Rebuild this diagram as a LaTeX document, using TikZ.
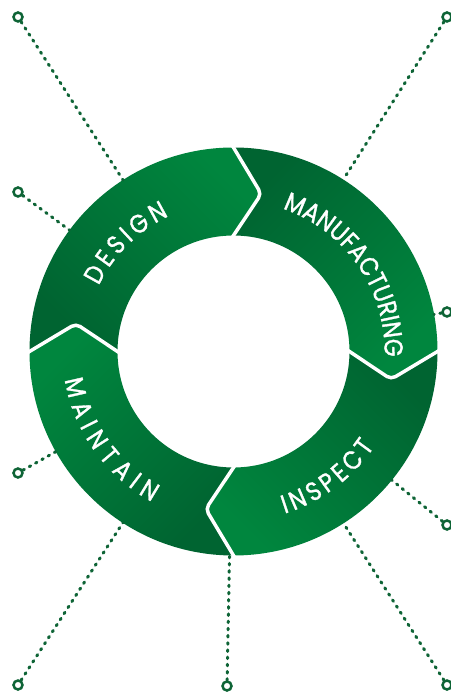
\documentclass[tikz,border=0pt]{standalone}
\usepackage{fontspec}
\setmainfont{Poppins}
\newfontfamily\ringfam[FakeBold=1.2,FakeStretch=0.88]{Poppins}
\usepackage{tikz}
\usetikzlibrary{calc,decorations.text}
\definecolor{ringlight}{RGB}{0,134,62}
\definecolor{ringdark}{RGB}{0,100,49}
\definecolor{dotgreen}{RGB}{14,100,54}
\newcommand{\ringfont}{\ringfam\fontsize{26}{26}\selectfont}

\begin{document}
\begin{tikzpicture}[
      pin/.style={circle,draw=dotgreen,line width=2.5pt,minimum size=9pt,inner sep=0pt},
      dotline/.style={dotgreen,line width=3pt,line cap=round,dash pattern=on 1.6pt off 5.6pt},
      gap/.style={white,line width=3.5pt,rounded corners=5pt},
      seg/.style={top color=ringlight,bottom color=ringdark,shading angle=#1},
      word/.style={decorate,decoration={text along path,text align=fit to path,
        text color=white,text={|\ringfont|#1}}},
      longword/.style={decorate,decoration={text along path,text align=center,
        text color=white,text={|\ringfont|#1}}}]
    \useasboundingbox (-233.5pt,-340.5pt) rectangle (216.5pt,351.5pt);
    \coordinate (ctr) at (0,0);

    \shade[seg=-45] (180:204pt) arc[start angle=180,end angle=90,radius=204pt]
      -- (80:160pt) -- (90:116pt) arc[start angle=90,end angle=180,radius=116pt]
      -- (170:160pt) -- cycle;
    \shade[seg=-135] (90:204pt) arc[start angle=90,end angle=0,radius=204pt]
      -- (-10:160pt) -- (0:116pt) arc[start angle=0,end angle=90,radius=116pt]
      -- (80:160pt) -- cycle;
    \shade[seg=135] (0:204pt) arc[start angle=0,end angle=-90,radius=204pt]
      -- (-100:160pt) -- (-90:116pt) arc[start angle=-90,end angle=0,radius=116pt]
      -- (-10:160pt) -- cycle;
    \shade[seg=45] (270:204pt) arc[start angle=270,end angle=180,radius=204pt]
      -- (170:160pt) -- (180:116pt) arc[start angle=180,end angle=270,radius=116pt]
      -- (260:160pt) -- cycle;

    \foreach \a in {90,0,-90,180}
      \draw[gap] ($(\a-10:160pt)!1.12!(\a:204pt)$) -- (\a-10:160pt) -- ($(\a-10:160pt)!1.12!(\a:116pt)$);

    \path[word=DESIGN] (154:150pt) arc[start angle=154,end angle=115.5,radius=150pt];
    \path[longword=MANUFACTURING] (84:151pt) arc[start angle=84,end angle=-15,radius=151pt];
    \path[word=INSPECT] (-72.5:170pt) arc[start angle=-72.5,end angle=-34,radius=170pt];
    \path[word=MAINTAIN] (189.5:171pt) arc[start angle=189.5,end angle=241.5,radius=171pt];

    \node[pin] (p1) at (-215.5pt,334.5pt) {};
    \node[pin] (p2) at (-215.5pt,159.5pt) {};
    \node[pin] (p3) at (-215.5pt,-121.5pt) {};
    \node[pin] (p4) at (-215.5pt,-333.5pt) {};
    \node[pin] (p5) at (-6.5pt,-334.5pt) {};
    \node[pin] (p6) at (213.5pt,-333.5pt) {};
    \node[pin] (p7) at (213.5pt,-173.5pt) {};
    \node[pin] (p8) at (213.5pt,39.5pt) {};
    \node[pin] (p9) at (213.5pt,334.5pt) {};
    \foreach \p in {p1,p2,p3,p4,p5,p6,p7,p8,p9}
      \draw[dotline] (\p) -- ($(ctr)!204pt!(\p)$);
  \end{tikzpicture}
\end{document}
